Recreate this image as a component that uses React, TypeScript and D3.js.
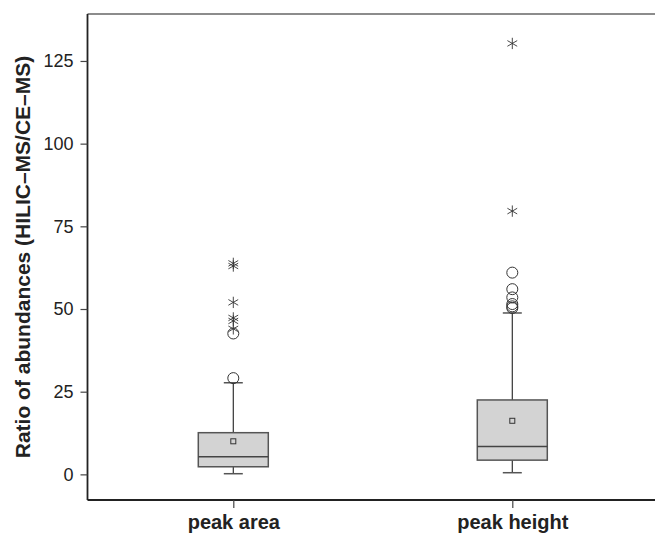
import React, { useEffect, useRef } from 'react';
import * as d3 from 'd3';

// box summaries
const groups = ['peak area', 'peak height'];
const whiskerLow = [0.2, 0.5];
const q1 = [2.3, 4.3];
const median = [5.3, 8.4];
const q3 = [12.6, 22.5];
const whiskerHigh = [27.7, 48.8];
const means = [10.0, 16.2];
const circleOutliers = [
  [29.1, 42.6],
  [50.3, 50.8, 51.5, 53.5, 56.0, 61.0],
];
const starOutliers = [
  [44.0, 46.4, 47.3, 52.0, 63.0, 63.8],
  [79.6, 130.3],
];
const yTicks = [0, 25, 50, 75, 100, 125];

const App = () => {
  const svgRef = useRef<SVGSVGElement>(null);

  useEffect(() => {
    const svg = d3.select(svgRef.current);
    svg.selectAll('*').remove();

    const left = 87.5;
    const top = 14;
    const bottom = 500;
    const right = 660;

    const y = d3.scaleLinear().domain([-7.75, 139.2]).range([bottom, top]);
    const x = d3.scalePoint().domain(groups).range([233.3, 512.3]);

    const boxW = 70;
    const capW = 17;
    const ink = '#333';
    const font = 'Liberation Sans, Arial, sans-serif';

    // frame
    svg.append('line')
      .attr('x1', left).attr('x2', right).attr('y1', top).attr('y2', top)
      .attr('stroke', '#666').attr('stroke-width', 1.5);
    svg.append('line')
      .attr('x1', left).attr('x2', right).attr('y1', bottom).attr('y2', bottom)
      .attr('stroke', '#222').attr('stroke-width', 1.8);

    // y axis
    const yAxis = svg.append('g')
      .attr('transform', `translate(${left},0)`)
      .call(d3.axisLeft(y).tickValues(yTicks).tickSize(7).tickPadding(7).tickSizeOuter(0));
    yAxis.select('.domain').attr('stroke', '#222').attr('stroke-width', 1.8)
      .attr('d', `M0,${top}V${bottom}`);
    yAxis.selectAll('.tick line').attr('stroke', '#444').attr('stroke-width', 1.2);
    yAxis.selectAll('.tick text')
      .attr('fill', '#222')
      .style('font-family', font)
      .style('font-size', '18px');

    // x axis
    const xAxis = svg.append('g')
      .attr('transform', `translate(0,${bottom})`)
      .call(d3.axisBottom(x).tickSize(8).tickPadding(7).tickSizeOuter(0));
    xAxis.select('.domain').remove();
    xAxis.selectAll('.tick line').attr('stroke', '#444').attr('stroke-width', 1.2);
    xAxis.selectAll('.tick text')
      .attr('fill', '#222')
      .style('font-family', font)
      .style('font-size', '20px')
      .style('font-weight', 'bold');

    // y title
    svg.append('text')
      .attr('transform', `translate(30,257) rotate(-90)`)
      .attr('text-anchor', 'middle')
      .attr('fill', '#222')
      .style('font-family', font)
      .style('font-size', '21px')
      .style('font-weight', 'bold')
      .text('Ratio of abundances (HILIC\u2013MS/CE\u2013MS)');

    const star = d3.symbol().type(d3.symbolAsterisk).size(90);

    groups.forEach((g, i) => {
      const cx = x(g) as number;
      const gr = svg.append('g');

      // whiskers
      gr.append('line')
        .attr('x1', cx).attr('x2', cx).attr('y1', y(q3[i])).attr('y2', y(whiskerHigh[i]))
        .attr('stroke', ink).attr('stroke-width', 1.2);
      gr.append('line')
        .attr('x1', cx).attr('x2', cx).attr('y1', y(q1[i])).attr('y2', y(whiskerLow[i]))
        .attr('stroke', ink).attr('stroke-width', 1.2);
      [whiskerHigh[i], whiskerLow[i]].forEach(v => {
        gr.append('line')
          .attr('x1', cx - capW / 2 - 1).attr('x2', cx + capW / 2 + 1)
          .attr('y1', y(v)).attr('y2', y(v))
          .attr('stroke', '#555').attr('stroke-width', 1.5);
      });

      // box
      gr.append('rect')
        .attr('x', cx - boxW / 2).attr('width', boxW)
        .attr('y', y(q3[i])).attr('height', y(q1[i]) - y(q3[i]))
        .attr('fill', '#d3d3d3').attr('stroke', '#555').attr('stroke-width', 1.5);
      gr.append('line')
        .attr('x1', cx - boxW / 2).attr('x2', cx + boxW / 2)
        .attr('y1', y(median[i])).attr('y2', y(median[i]))
        .attr('stroke', '#444').attr('stroke-width', 1.5);

      // mean
      gr.append('rect')
        .attr('x', cx - 2.5).attr('y', y(means[i]) - 2.5)
        .attr('width', 5).attr('height', 5)
        .attr('fill', 'none').attr('stroke', '#333').attr('stroke-width', 1);

      // outliers
      circleOutliers[i].forEach(v => {
        gr.append('circle')
          .attr('cx', cx).attr('cy', y(v)).attr('r', 5.5)
          .attr('fill', 'none').attr('stroke', '#333').attr('stroke-width', 1);
      });
      starOutliers[i].forEach(v => {
        gr.append('path')
          .attr('transform', `translate(${cx},${y(v)})`)
          .attr('d', star())
          .attr('fill', 'none').attr('stroke', '#333').attr('stroke-width', 0.9);
      });
    });
  }, []);

  return (
    <svg
      ref={svgRef}
      width={655}
      height={534}
      style={{ position: 'absolute', left: 0, top: 0, background: '#fff' }}
    />
  );
};

export default App;
